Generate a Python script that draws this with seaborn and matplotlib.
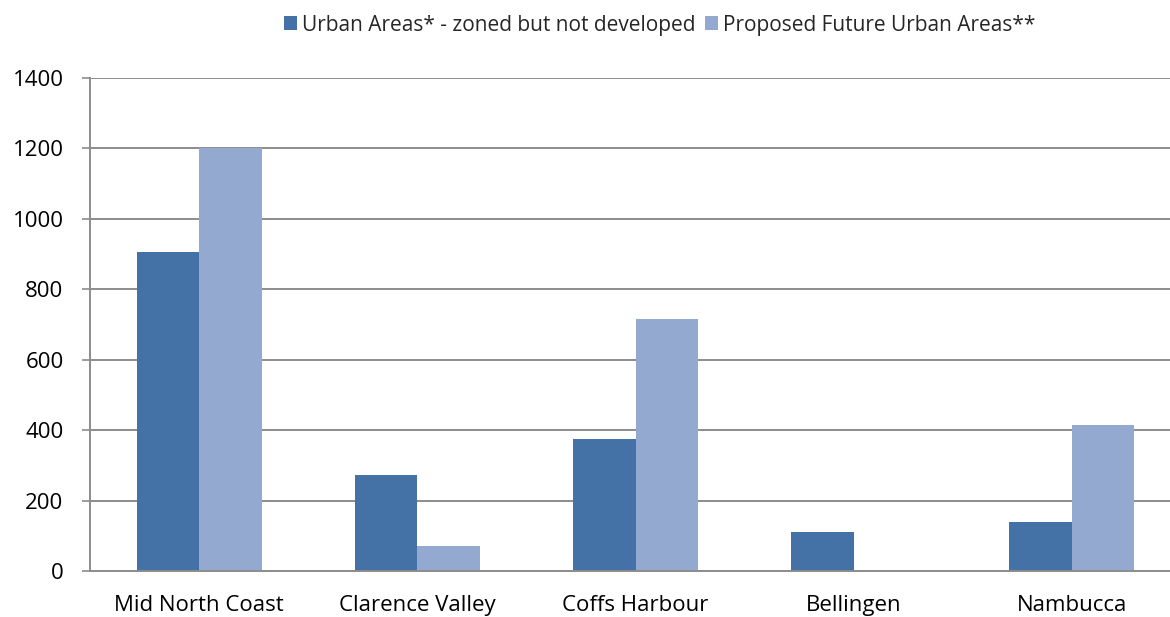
import matplotlib
matplotlib.use("Agg")
import matplotlib.pyplot as plt
from matplotlib.patches import Patch
import seaborn as sns
import pandas as pd

categories = ["Mid North Coast", "Clarence Valley", "Coffs Harbour", "Bellingen", "Nambucca"]
series_names = ["Urban Areas* - zoned but not developed", "Proposed Future Urban Areas**"]
zoned = [905, 272, 376, 111, 139]
proposed = [1200, 71, 715, 0, 414]
y_ticks = [0, 200, 400, 600, 800, 1000, 1200, 1400]
colors = ["#4472A7", "#94A9D0"]

df = pd.DataFrame({
    "Region": categories * 2,
    "Series": [series_names[0]] * len(categories) + [series_names[1]] * len(categories),
    "Value": zoned + proposed,
})

sns.set_style("white")
plt.rcParams["font.family"] = ["Open Sans", "DejaVu Sans"]

fig = plt.figure(figsize=(11.7, 6.17), dpi=100)
ax = fig.add_axes([90 / 1170, 46 / 617, 1091 / 1170, 493 / 617])

sns.barplot(data=df, x="Region", y="Value", hue="Series", order=categories,
            hue_order=series_names, palette=colors, width=0.573, gap=0,
            saturation=1, legend=False, ax=ax, edgecolor="none", linewidth=0)

ax.set_ylim(0, 1400)
ax.set_xlim(-0.5, len(categories) - 0.5)
ax.set_yticks(y_ticks)
ax.set_yticklabels([str(v) for v in y_ticks], fontsize=16, color="#000000")
ax.set_xlabel("")
ax.set_ylabel("")
ax.yaxis.grid(True, color="#8c8c8c", linewidth=1.4)
ax.set_axisbelow(True)

ax.set_xticks(range(len(categories)))
ax.set_xticklabels(categories, fontsize=16, color="#000000")
ax.set_xticks([i - 0.5 for i in range(len(categories) + 1)], minor=True)
ax.tick_params(axis="x", which="major", length=0, pad=17)
ax.tick_params(axis="x", which="minor", length=6, width=1.2, color="#8c8c8c", direction="out")
ax.tick_params(axis="y", which="major", length=6, width=1.2, color="#8c8c8c", direction="out", pad=13, left=True)

for side in ["top", "right"]:
    ax.spines[side].set_visible(False)
for side in ["left", "bottom"]:
    ax.spines[side].set_color("#8c8c8c")
    ax.spines[side].set_linewidth(1.4)

handles = [Patch(facecolor=c, edgecolor="none") for c in colors]
fig.legend(handles, series_names, loc="center", bbox_to_anchor=(660 / 1170, 1 - 25 / 617),
           ncol=2, frameon=False, fontsize=15, handlelength=0.62, handleheight=0.62,
           handletextpad=0.25, columnspacing=0.45)

fig.savefig("out.png", dpi=100)
